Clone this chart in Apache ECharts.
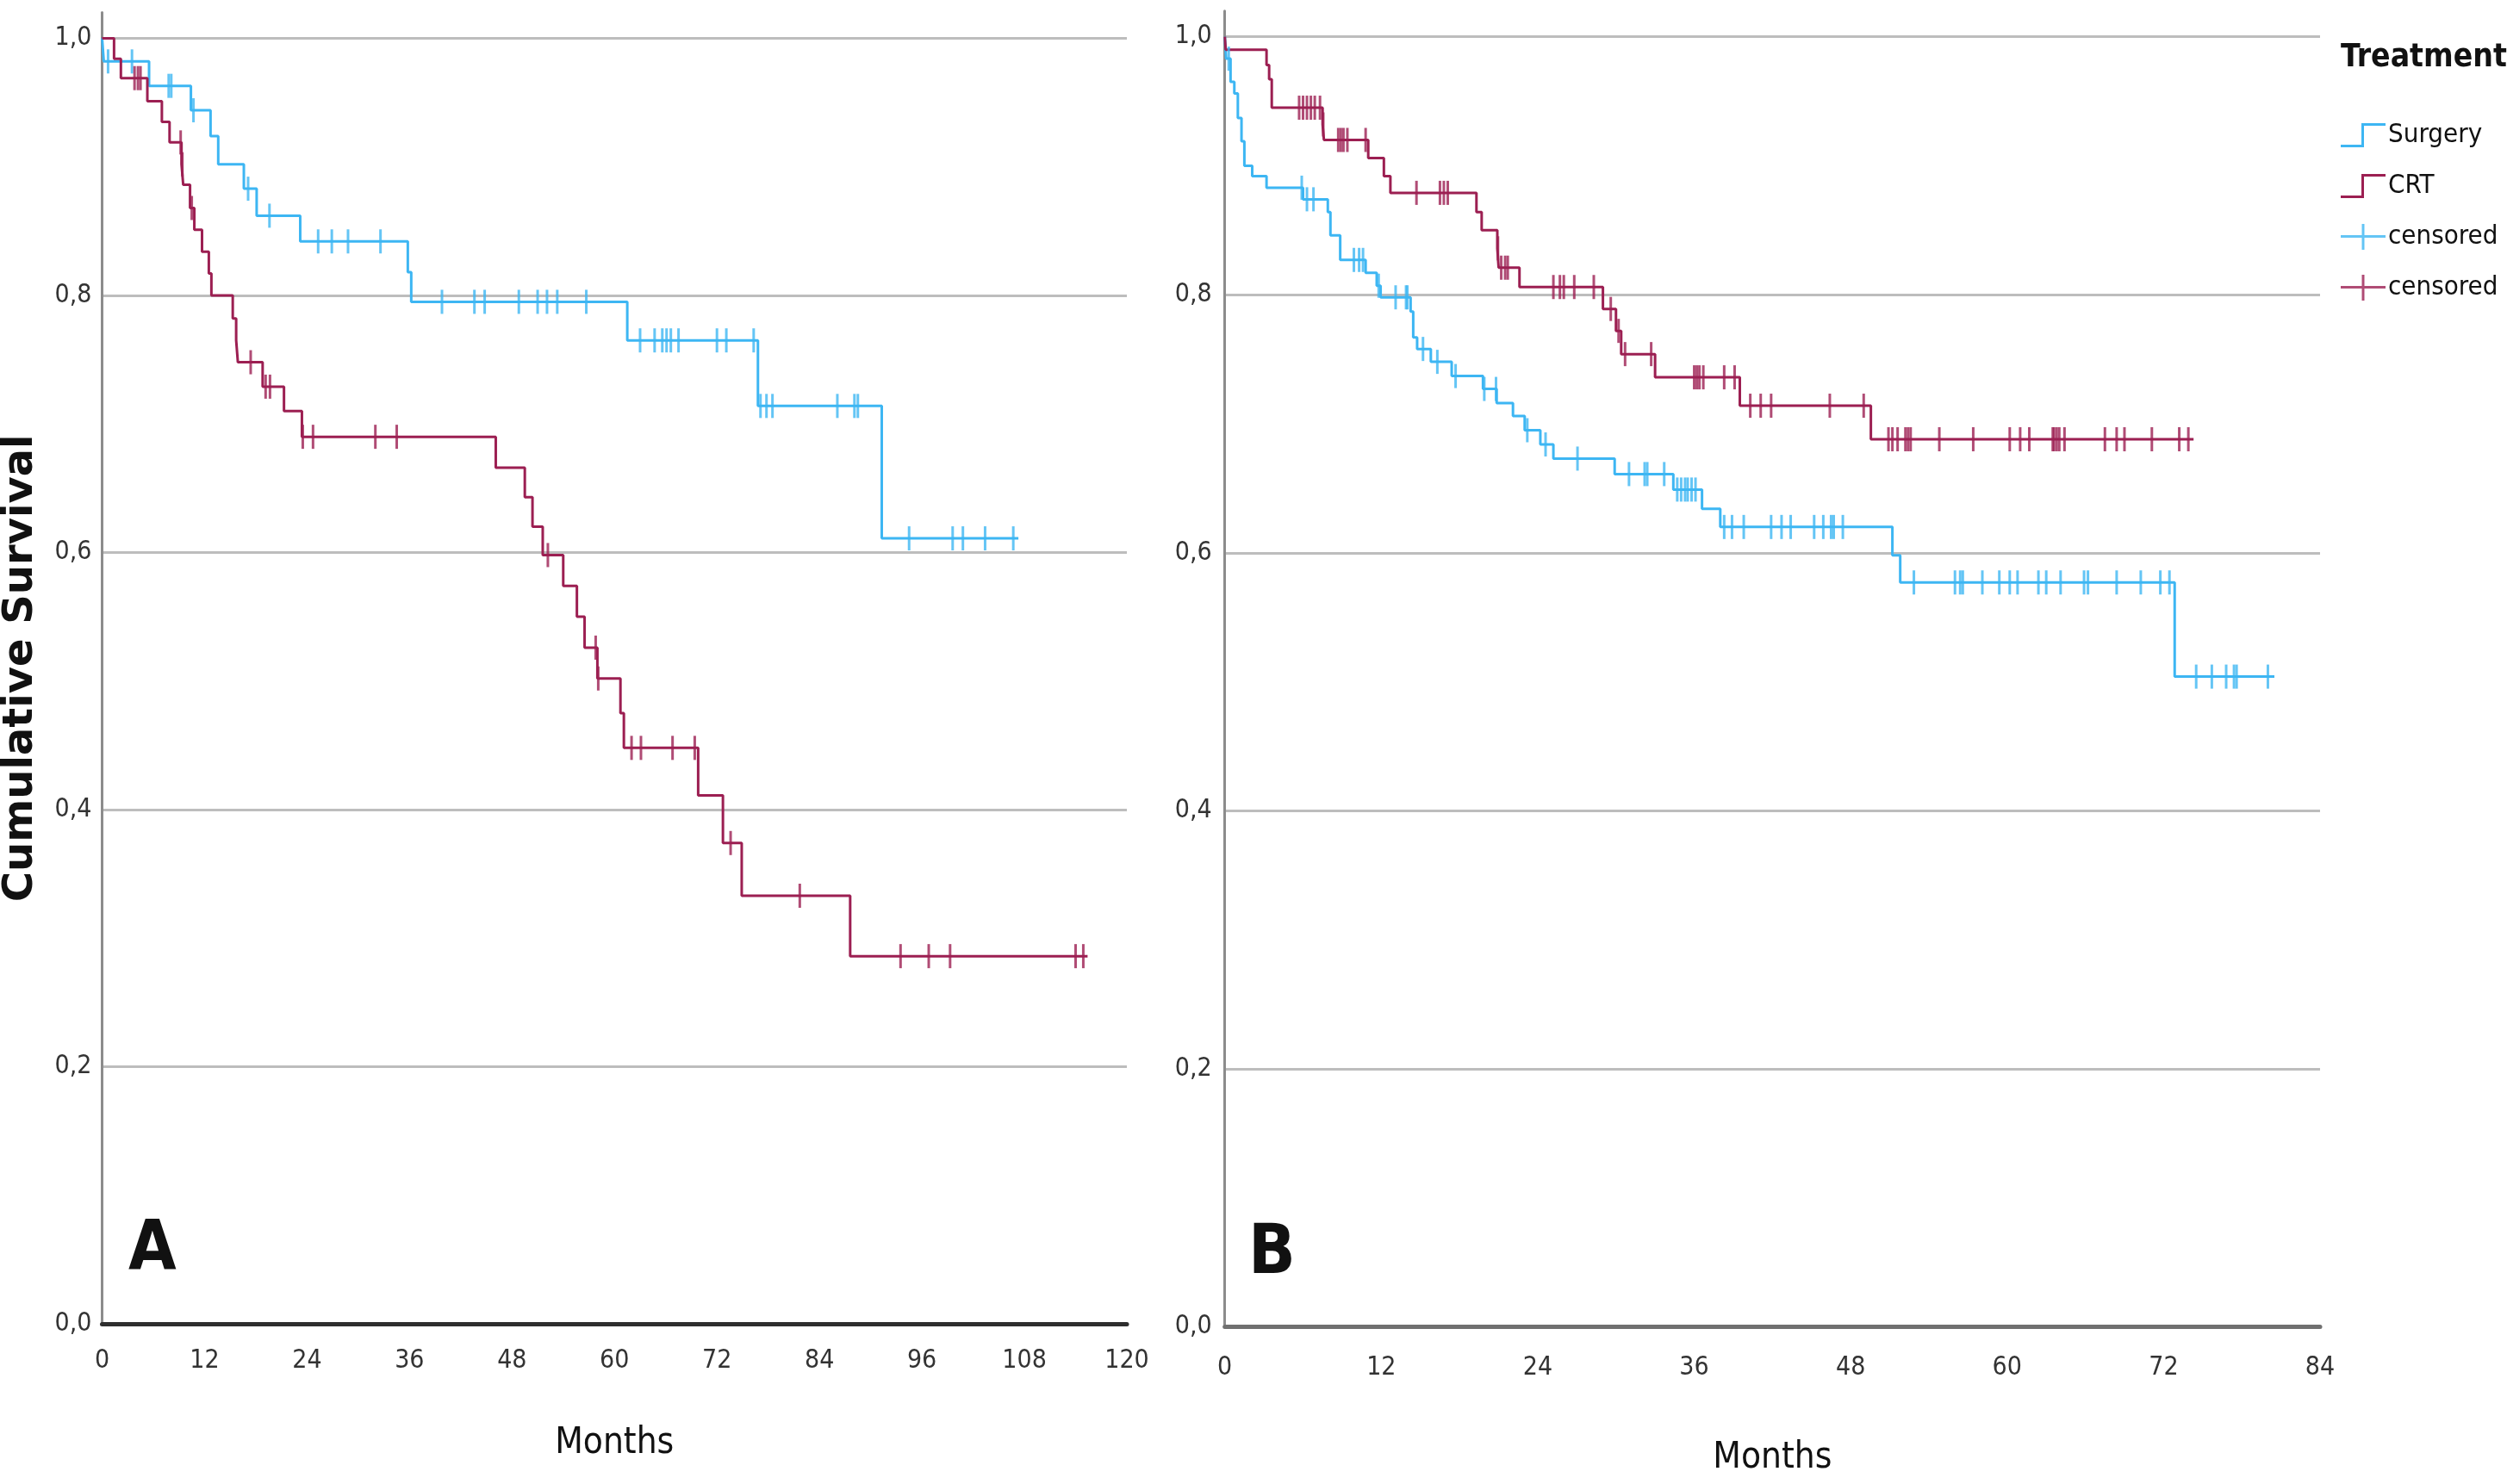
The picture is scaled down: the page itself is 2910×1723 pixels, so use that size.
<!DOCTYPE html>
<html>
<head>
<meta charset="utf-8">
<script src="https://cdn.jsdelivr.net/npm/echarts@6/dist/echarts.min.js"></script>
<style>
html,body{margin:0;padding:0;background:#fff;}
#chart{width:2910px;height:1723px;}
</style>
</head>
<body>
<div id="chart"></div>
<script>
// ---------- DATA (months, cumulative survival) ----------
// Panel A
const surgeryA_time = [0, 0.2, 5.5, 10.4, 12.7, 13.6, 16.6, 18.1, 23.2, 35.8, 36.2, 61.5, 76.8, 91.3];
const surgeryA_surv = [1.0, 0.982, 0.963, 0.944, 0.924, 0.902, 0.883, 0.862, 0.842, 0.818, 0.795, 0.765, 0.714, 0.611];
const surgeryA_censor = [0.7, 3.5, 7.8, 8.1, 10.7, 17.1, 19.6, 25.3, 26.9, 28.8, 32.6, 39.8, 43.6, 44.8, 48.8, 51.0, 52.1, 53.3, 56.7,
  63.0, 64.7, 65.6, 66.1, 66.6, 67.5, 72.0, 73.1, 76.3, 77.1, 77.8, 78.5, 86.1, 88.1, 88.5, 94.5, 99.6, 100.8, 103.4, 106.7];
const surgeryA_end = 107.3;

const crtA_time = [0, 1.4, 2.2, 5.3, 7.0, 7.9, 9.3, 9.5, 10.3, 10.8, 11.7, 12.5, 12.8, 15.3, 15.7, 15.9, 18.8, 21.3, 23.4,
  46.1, 49.5, 50.4, 51.6, 54.0, 55.6, 56.5, 58.0, 60.7, 61.1, 69.8, 72.7, 74.9, 87.6];
const crtA_surv = [1.0, 0.984, 0.969, 0.951, 0.935, 0.919, 0.902, 0.886, 0.868, 0.851, 0.834, 0.817, 0.800, 0.782, 0.765, 0.748, 0.729, 0.710, 0.690,
  0.666, 0.643, 0.620, 0.598, 0.574, 0.550, 0.526, 0.502, 0.475, 0.448, 0.411, 0.374, 0.333, 0.286];
const crtA_censor = [3.8, 4.2, 4.5, 9.2, 9.4, 10.5, 17.4, 19.15, 19.66, 23.5, 24.7, 32.0, 34.5, 52.2, 57.8, 58.1, 62.0, 63.1, 66.8, 69.4,
  73.6, 81.7, 93.5, 96.8, 99.3, 114.0, 114.9];
const crtA_end = 115.4;

// Panel B
const surgeryB_time = [0, 0.1, 0.44, 0.73, 1.0, 1.28, 1.5, 2.1, 3.2, 6.0, 7.9, 8.1, 8.85, 10.8, 11.65, 11.95, 14.25, 14.45, 14.75, 15.8, 17.4,
  19.8, 20.85, 22.1, 23.0, 24.2, 25.2, 29.9, 34.4, 36.6, 38.0, 51.2, 51.8, 72.85];
const surgeryB_surv = [1.0, 0.983, 0.965, 0.956, 0.937, 0.919, 0.900, 0.892, 0.883, 0.874, 0.864, 0.846, 0.827, 0.817, 0.807, 0.798, 0.787, 0.767, 0.758, 0.748, 0.737,
  0.727, 0.716, 0.706, 0.695, 0.684, 0.673, 0.661, 0.649, 0.634, 0.620, 0.598, 0.577, 0.504];
const surgeryB_censor = [0.3, 5.9, 6.3, 6.8, 9.9, 10.3, 10.6, 11.8, 13.1, 13.9, 14.0, 15.2, 16.3, 17.7, 19.9, 20.8, 23.2, 24.6, 27.05,
  31.0, 32.2, 32.4, 33.7, 34.7, 35.0, 35.3, 35.5, 35.8, 36.1, 38.3, 38.9, 39.8, 41.9, 42.7, 43.4, 45.2, 45.9, 46.5, 46.7, 47.4,
  52.85, 56.0, 56.4, 56.6, 58.1, 59.4, 60.2, 60.8, 62.4, 63.0, 64.1, 65.9, 66.2, 68.4, 70.25, 71.75, 72.45,
  74.5, 75.7, 76.8, 77.4, 77.6, 80.0];
const surgeryB_end = 80.5;

const crtB_time = [0, 0.07, 3.2, 3.4, 3.6, 7.5, 7.6, 11.0, 12.2, 12.7, 19.3, 19.7, 20.9, 21.0, 22.6, 29.0, 30.0, 30.4, 33.0, 39.5, 49.55];
const crtB_surv = [1.0, 0.990, 0.978, 0.967, 0.945, 0.932, 0.920, 0.906, 0.892, 0.879, 0.864, 0.850, 0.836, 0.821, 0.806, 0.789, 0.772, 0.754, 0.736, 0.714, 0.688];
const crtB_censor = [5.7, 6.0, 6.3, 6.6, 6.9, 7.3, 7.55, 8.7, 8.9, 9.1, 9.4, 10.8, 14.7, 16.5, 16.8, 17.1, 20.95, 21.2, 21.5, 21.7,
  25.2, 25.7, 26.0, 26.8, 28.3, 29.6, 30.2, 30.7, 32.7, 36.0, 36.2, 36.4, 36.7, 38.3, 39.1, 40.3, 41.1, 41.9, 46.4, 49.0,
  50.9, 51.2, 51.6, 52.2, 52.4, 52.6, 54.8, 57.4, 60.2, 61.0, 61.7, 63.5, 63.6, 63.8, 64.0, 64.4, 67.5, 68.4, 69.0, 71.1, 73.2, 73.9];
const crtB_end = 74.3;

// axis ticks
const yTicks = [0, 0.2, 0.4, 0.6, 0.8, 1.0];
const xMaxA = 120, xMaxB = 84, xStep = 12;

// ---------- HELPERS ----------
function kmLine(times, surv, end) {
  const d = times.map((t, i) => [t, surv[i]]);
  d.push([end, surv[surv.length - 1]]);
  return d;
}
function survAt(times, surv, t) {
  let s = surv[0];
  for (let i = 0; i < times.length; i++) if (times[i] <= t) s = surv[i];
  return s;
}
function censorPts(censor, times, surv) {
  return censor.map(t => [t, survAt(times, surv, t)]);
}

const BLUE = '#3db6f3';
const RED = '#9c1f52';
const NARROW = "'Liberation Sans Narrow', 'DejaVu Sans Condensed', 'Liberation Sans', sans-serif";
const fmtY = v => (v > 1.001 ? '' : v.toFixed(1).replace('.', ','));

function yAxis(gridIndex, showName, labelMargin) {
  return {
    type: 'value', gridIndex: gridIndex, min: yTicks[0], max: 1.02, interval: 0.2,
    name: showName ? 'Cumulative Survival' : '', nameLocation: 'middle', nameGap: 70, nameRotate: 90,
    nameTextStyle: { fontFamily: "'DejaVu Sans', Verdana, sans-serif", fontWeight: 'bold', fontSize: 48, color: '#111' },
    axisLine: { show: true, onZero: false, lineStyle: { color: '#8c8c8c', width: 3 } },
    axisTick: { show: false },
    axisLabel: { formatter: fmtY, showMaxLabel: false, margin: labelMargin, fontFamily: NARROW, fontSize: 30, color: '#333' },
    splitLine: { show: true, showMaxLine: false, lineStyle: { color: '#bdbdbd', width: 3 } }
  };
}
function xAxis(gridIndex, max, lineColor, gap, labelMargin) {
  return {
    type: 'value', gridIndex: gridIndex, min: 0, max: max, interval: xStep,
    name: 'Months', nameLocation: 'middle', nameGap: gap,
    nameTextStyle: { fontFamily: NARROW, fontSize: 42, color: '#111', verticalAlign: 'top' },
    axisLine: { show: true, onZero: false, lineStyle: { color: lineColor, width: 5 } },
    axisTick: { show: false },
    axisLabel: { margin: labelMargin, fontFamily: NARROW, fontSize: 30, color: '#333' },
    splitLine: { show: false }
  };
}
function stepSeries(name, xi, data, color) {
  return { name: name, type: 'line', xAxisIndex: xi, yAxisIndex: xi, step: 'end', data: data,
    showSymbol: false, symbol: 'none', lineStyle: { color: color, width: 3 }, itemStyle: { color: color },
    emphasis: { disabled: true }, z: 3 };
}
function censorSeries(name, xi, data, color) {
  return { name: name, type: 'scatter', xAxisIndex: xi, yAxisIndex: xi, data: data,
    symbol: 'rect', symbolSize: [3, 28], itemStyle: { color: color }, emphasis: { disabled: true }, z: 4 };
}

const stepIcon = 'path://M0,25 H24 V0 H52 V3 H27 V28 H0 Z';
const plusIcon = 'path://M0,13 H24.5 V0 H27.5 V13 H52 V16 H27.5 V30 H24.5 V16 H0 Z';

const option = {
  animation: false,
  backgroundColor: '#fff',
  title: [
    { text: 'Treatment', left: 2712, top: 44, textStyle: { fontFamily: NARROW, fontWeight: 'bold', fontSize: 37, color: '#111' } },
    { text: 'A', left: 144, top: 1408, textStyle: { fontFamily: NARROW, fontWeight: 'bold', fontSize: 80, color: '#111' } },
    { text: 'B', left: 1444, top: 1412, textStyle: { fontFamily: NARROW, fontWeight: 'bold', fontSize: 80, color: '#111' } }
  ],
  legend: {
    orient: 'vertical', left: 2712, top: 130, itemWidth: 52, itemHeight: 30, itemGap: 15,
    textStyle: { fontFamily: NARROW, fontSize: 31, color: '#111', lineHeight: 44, padding: [0, 0, 0, -2] },
    formatter: n => (n.indexOf('censored') === 0 ? 'censored' : n),
    selectedMode: false,
    data: [
      { name: 'Surgery', icon: stepIcon },
      { name: 'CRT', icon: stepIcon },
      { name: 'censored-s', icon: plusIcon },
      { name: 'censored-c', icon: plusIcon }
    ]
  },
  grid: [
    { left: 118.5, top: 14.6, width: 1189.5, height: 1522.4, containLabel: false, outerBoundsMode: 'none' },
    { left: 1421.7, top: 12.7, width: 1271.3, height: 1527.8, containLabel: false, outerBoundsMode: 'none' }
  ],
  xAxis: [ xAxis(0, xMaxA, '#2e2e2e', 118, 28), xAxis(1, xMaxB, '#707070', 132, 33) ],
  yAxis: [ yAxis(0, true, 12), yAxis(1, false, 15) ],
  series: [
    stepSeries('Surgery', 0, kmLine(surgeryA_time, surgeryA_surv, surgeryA_end), BLUE),
    stepSeries('CRT', 0, kmLine(crtA_time, crtA_surv, crtA_end), RED),
    censorSeries('censored-s', 0, censorPts(surgeryA_censor, surgeryA_time, surgeryA_surv), BLUE),
    censorSeries('censored-c', 0, censorPts(crtA_censor, crtA_time, crtA_surv), RED),
    stepSeries('Surgery', 1, kmLine(surgeryB_time, surgeryB_surv, surgeryB_end), BLUE),
    stepSeries('CRT', 1, kmLine(crtB_time, crtB_surv, crtB_end), RED),
    censorSeries('censored-s', 1, censorPts(surgeryB_censor, surgeryB_time, surgeryB_surv), BLUE),
    censorSeries('censored-c', 1, censorPts(crtB_censor, crtB_time, crtB_surv), RED)
  ]
};

const chart = echarts.init(document.getElementById('chart'), null, { renderer: 'canvas' });
chart.setOption(option);
</script>
</body>
</html>
